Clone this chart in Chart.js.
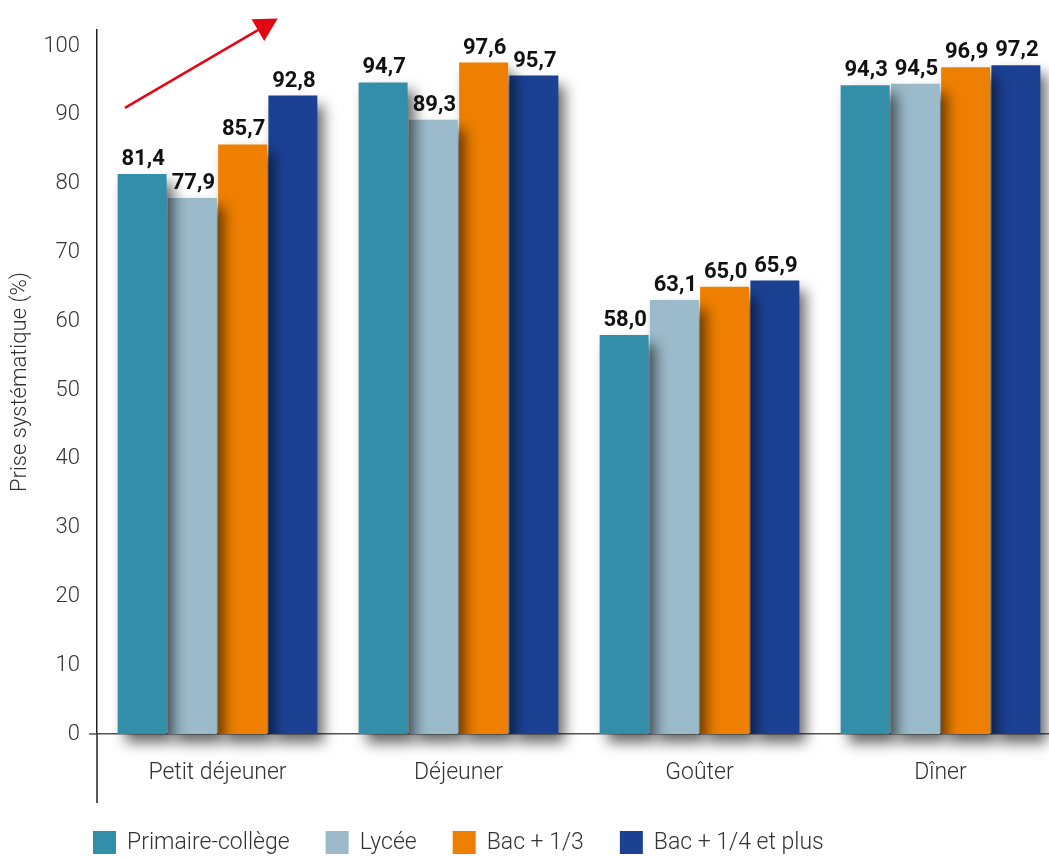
<!DOCTYPE html>
<html>
<head>
<meta charset="utf-8">
<script src="https://cdn.jsdelivr.net/npm/chart.js@4.4.1/dist/chart.umd.min.js"></script>
<style>
  html, body { margin: 0; padding: 0; overflow: hidden; background: #fff; }
</style>
</head>
<body>
<canvas id="bar-chart" width="1064" height="857"></canvas>
<script>
// data
const categories = ["Petit déjeuner", "Déjeuner", "Goûter", "Dîner"];
const seriesNames = ["Primaire-collège", "Lycée", "Bac + 1/3", "Bac + 1/4 et plus"];
const primaireCollege = [81.4, 94.7, 58.0, 94.3];
const lycee = [77.9, 89.3, 63.1, 94.5];
const bac13 = [85.7, 97.6, 65.0, 96.9];
const bac14 = [92.8, 95.7, 65.9, 97.2];
const yTicks = [0, 10, 20, 30, 40, 50, 60, 70, 80, 90, 100];

const colors = ["#338FA9", "#9BBACA", "#EE7F00", "#1C4193"];
const FONT = "Roboto";

// drop shadow behind the bars
const barShadow = {
  id: 'barShadow',
  beforeDatasetsDraw(chart) {
    const ctx = chart.ctx;
    ctx.save();
    ctx.shadowColor = 'rgba(0,0,0,0.6)';
    ctx.shadowBlur = 13;
    ctx.shadowOffsetX = 7;
    ctx.shadowOffsetY = 9;
  },
  afterDatasetsDraw(chart) {
    chart.ctx.restore();
  }
};

// value labels above bars, french decimal comma
const valueLabels = {
  id: 'valueLabels',
  afterDatasetsDraw(chart) {
    const ctx = chart.ctx;
    ctx.save();
    ctx.font = "bold 22px " + FONT;
    ctx.fillStyle = '#111';
    ctx.textAlign = 'center';
    ctx.textBaseline = 'alphabetic';
    chart.data.datasets.forEach((ds, i) => {
      chart.getDatasetMeta(i).data.forEach((bar, j) => {
        ctx.fillText(ds.data[j].toFixed(1).replace('.', ','), bar.x + 1, bar.y - 9);
      });
    });
    ctx.restore();
  }
};

// axis extensions, red arrow, legend
const extras = {
  id: 'extras',
  afterDraw(chart) {
    const ctx = chart.ctx;
    const area = chart.chartArea;
    const xs = chart.scales.x, ys = chart.scales.y;
    ctx.save();
    // y axis line continues below zero, zero line a bit left of the axis
    ctx.strokeStyle = '#222';
    ctx.lineWidth = 1.5;
    ctx.beginPath();
    ctx.moveTo(area.left, area.bottom);
    ctx.lineTo(area.left, xs.bottom + 17);
    ctx.stroke();
    ctx.strokeStyle = '#555';
    ctx.beginPath();
    ctx.moveTo(area.left - 8, area.bottom);
    ctx.lineTo(area.left, area.bottom);
    ctx.stroke();

    // red arrow over first group
    const cw = xs.getPixelForValue(1) - xs.getPixelForValue(0);
    const cx0 = xs.getPixelForValue(0);
    const sx = cx0 - 0.384 * cw, sy = ys.getPixelForValue(91);
    const tx = cx0 + 0.25 * cw, ty = ys.getPixelForValue(104);
    const ang = Math.atan2(ty - sy, tx - sx);
    const hl = 23, hw = 12.5;
    const bx = tx - hl * Math.cos(ang), by = ty - hl * Math.sin(ang);
    ctx.strokeStyle = '#E30613';
    ctx.fillStyle = '#E30613';
    ctx.lineWidth = 2.5;
    ctx.beginPath();
    ctx.moveTo(sx, sy);
    ctx.lineTo(bx, by);
    ctx.stroke();
    ctx.beginPath();
    ctx.moveTo(tx, ty);
    ctx.lineTo(bx + hw * Math.sin(ang), by - hw * Math.cos(ang));
    ctx.lineTo(bx - hw * Math.sin(ang), by + hw * Math.cos(ang));
    ctx.closePath();
    ctx.fill();

    // legend
    ctx.font = "300 23px " + FONT;
    ctx.textBaseline = 'middle';
    ctx.textAlign = 'left';
    let x = area.left - 4;
    const y = 843;
    chart.data.datasets.forEach(ds => {
      ctx.fillStyle = ds.backgroundColor;
      ctx.fillRect(x, y - 12, 23, 23);
      ctx.fillStyle = '#333';
      ctx.fillText(ds.label, x + 34, y);
      x += 34 + ctx.measureText(ds.label).width + 36;
    });
    ctx.restore();
  }
};

const seriesData = [primaireCollege, lycee, bac13, bac14];

new Chart(document.getElementById("bar-chart"), {
  type: 'bar',
  data: {
    labels: categories,
    datasets: seriesNames.map((name, i) => ({
      label: name,
      data: seriesData[i],
      backgroundColor: colors[i],
      categoryPercentage: 0.834,
      barPercentage: 0.975,
      clip: false
    }))
  },
  options: {
    responsive: false,
    animation: false,
    devicePixelRatio: 1,
    layout: { padding: { top: 25, bottom: 71, right: 3, left: 0 } },
    plugins: {
      legend: { display: false },
      tooltip: { enabled: false }
    },
    scales: {
      x: {
        grid: { display: false, drawTicks: false },
        border: { display: true, color: '#555', width: 1.5 },
        ticks: { color: '#333', padding: 25, font: { family: FONT, size: 23, weight: 300 } },
        afterFit(scale) { scale.height = 52; }
      },
      y: {
        min: 0,
        max: 102.3,
        grid: { display: false, drawTicks: false },
        border: { display: true, color: '#222', width: 1.5 },
        afterBuildTicks(axis) {
          axis.ticks = yTicks.map(v => ({ value: v }));
        },
        ticks: { color: '#333', padding: 17, font: { family: FONT, size: 22, weight: 300 } },
        title: {
          display: true,
          text: 'Prise systématique (%)',
          color: '#333',
          padding: { top: 7, bottom: 0 },
          font: { family: FONT, size: 22, weight: 300 }
        },
        afterFit(scale) { scale.width = 97; }
      }
    }
  },
  plugins: [barShadow, valueLabels, extras]
});
</script>
</body>
</html>
